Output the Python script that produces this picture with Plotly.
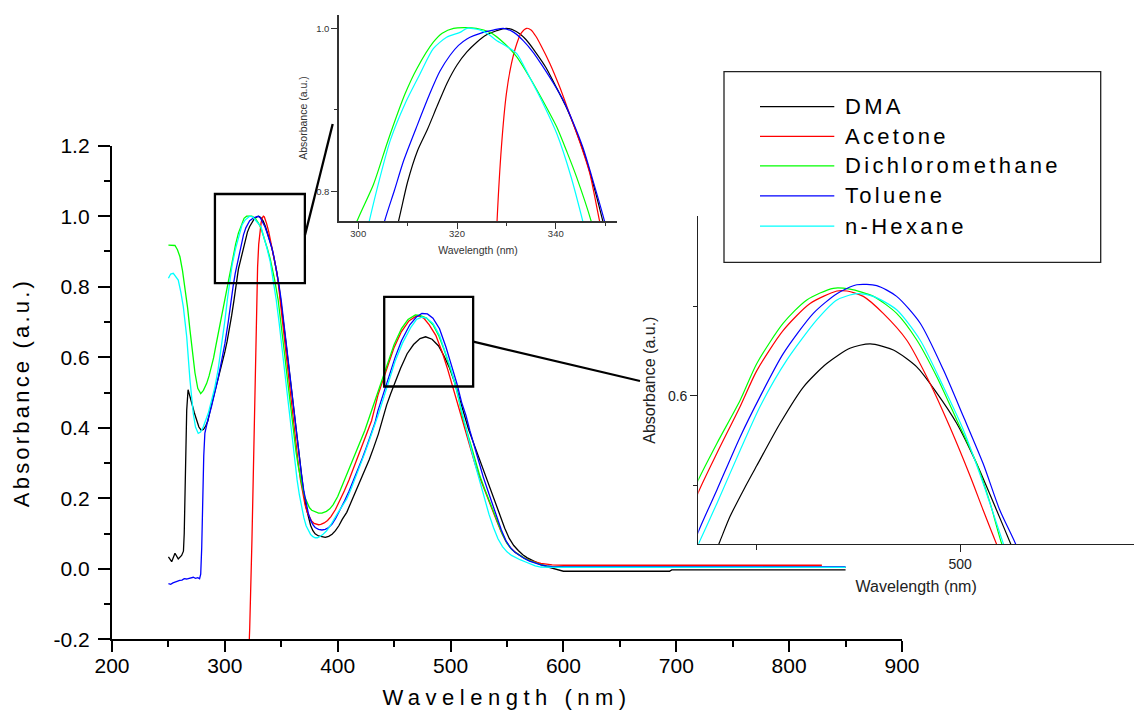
import plotly.graph_objects as go

# ---------------- data ----------------
names = ["DMA", "Acetone", "Dichloromethane", "Toluene", "n-Hexane"]
colors = ["#000000", "#FF0000", "#00FF00", "#0000FF", "#00FFFF"]

wl_dma = [250, 252.9, 255.8, 258.7, 261.7, 263.3, 264, 265, 266.2, 267.4, 269, 271, 273, 275, 277, 279,
          281, 283, 285, 287, 290, 293, 296, 298, 300, 302, 304, 306, 308, 310, 312, 314, 316, 318,
          320, 322, 324, 326, 328, 330, 332, 334, 336, 338, 340, 342, 344, 346, 348, 350, 352, 354,
          356, 358, 360, 362, 364, 366, 368, 370, 372, 374, 376, 378, 380, 383, 386, 389, 392, 395,
          398, 401, 404, 408, 412, 416, 420, 424, 428, 432, 436, 440.8, 443.4, 447, 450, 455.7, 461.5,
          467.2, 472.9, 477.9, 483.6, 489.4, 494.3, 499.2, 504.1, 509, 512.5, 516, 520, 524, 528, 532,
          536, 540, 544, 548, 552, 556, 560, 564, 568, 572, 576, 580, 585, 590, 595, 600, 694, 696, 850]
ab_dma = [0.034, 0.020, 0.044, 0.028, 0.038, 0.050, 0.10, 0.28, 0.45, 0.508, 0.492, 0.466, 0.442, 0.420,
          0.402, 0.393, 0.395, 0.405, 0.420, 0.450, 0.487, 0.527, 0.562, 0.588, 0.615, 0.645, 0.678,
          0.718, 0.760, 0.812, 0.850, 0.876, 0.905, 0.933, 0.955, 0.971, 0.983, 0.992, 0.997, 1.000,
          0.996, 0.986, 0.970, 0.952, 0.929, 0.905, 0.876, 0.842, 0.800, 0.752, 0.700, 0.645, 0.590,
          0.535, 0.478, 0.420, 0.365, 0.310, 0.258, 0.212, 0.174, 0.145, 0.123, 0.108, 0.099, 0.093,
          0.090, 0.089, 0.092, 0.098, 0.108, 0.122, 0.140, 0.160, 0.190, 0.220, 0.246, 0.276, 0.310,
          0.345, 0.382, 0.436, 0.465, 0.497, 0.522, 0.569, 0.610, 0.636, 0.653, 0.658, 0.651, 0.632,
          0.603, 0.569, 0.524, 0.472, 0.434, 0.395, 0.360, 0.325, 0.290, 0.258, 0.222, 0.185, 0.148,
          0.115, 0.086, 0.066, 0.052, 0.040, 0.031, 0.024, 0.018, 0.012, 0.006, 0.001, -0.003, -0.007,
          -0.007, -0.003, -0.003]

wl_ace = [320, 322, 324, 326, 327, 328, 329, 330, 331, 332.1, 333, 334.1, 335, 336, 337, 338.8, 340.8,
          342.8, 344.9, 346.9, 348.9, 351, 353, 355, 357, 359, 361, 363, 365, 367, 369, 371, 373, 375,
          377, 379, 381, 383, 385, 388, 391, 394, 398, 402, 406, 410, 414, 418, 422, 426, 430, 433,
          435.6, 440.2, 445.9, 450, 456.5, 463.1, 469.7, 472.2, 476.2, 481.1, 486.9, 492.6, 497.5,
          502.5, 505.7, 509, 513, 517, 521, 525, 529, 533, 537, 541, 545, 549, 553, 557, 561, 565,
          570, 575, 580, 585, 590, 600, 700, 829]
ab_ace = [-0.35, -0.17, 0.08, 0.40, 0.58, 0.75, 0.855, 0.92, 0.956, 0.981, 0.994, 1.000, 0.998, 0.990,
          0.979, 0.957, 0.928, 0.895, 0.860, 0.822, 0.763, 0.705, 0.650, 0.590, 0.530, 0.470, 0.410,
          0.355, 0.300, 0.252, 0.212, 0.182, 0.160, 0.145, 0.135, 0.129, 0.126, 0.125, 0.126, 0.130,
          0.137, 0.148, 0.168, 0.193, 0.222, 0.252, 0.285, 0.315, 0.348, 0.385, 0.420, 0.458, 0.492,
          0.536, 0.588, 0.628, 0.673, 0.703, 0.717, 0.717, 0.711, 0.692, 0.662, 0.614, 0.565, 0.510,
          0.472, 0.434, 0.390, 0.346, 0.305, 0.266, 0.232, 0.198, 0.168, 0.135, 0.104, 0.078, 0.060,
          0.048, 0.039, 0.031, 0.024, 0.019, 0.015, 0.013, 0.011, 0.010, 0.010, 0.010]

wl_dcm = [250, 252, 255.8, 258, 260.2, 262.5, 264.7, 267, 269.1, 271, 273.5, 276, 278.6, 281, 283.9, 286,
          288.3, 290, 292, 294.2, 297, 299.7, 303.1, 306, 309.5, 312, 315.2, 317, 319.3, 323.9, 326.7,
          329.5, 332.1, 334.7, 337.5, 340.2, 342.3, 344.2, 347.2, 349, 351, 353, 355, 357, 359, 361,
          363, 365, 367, 369, 371, 373, 375, 377, 380, 383, 386, 388, 390, 393, 396, 400, 404, 408,
          412, 416, 420, 424, 428, 432, 435.6, 440.2, 445.9, 450, 456.5, 462.3, 468.8, 472.9, 478.7,
          484.4, 489.4, 494.3, 499.2, 504.1, 507.4, 510.3, 514, 518, 522, 526, 530, 534, 538, 542, 546,
          550, 554, 558, 562, 566, 570, 575, 580, 585, 590, 600, 850]
ab_dcm = [0.918, 0.917, 0.917, 0.905, 0.885, 0.845, 0.800, 0.740, 0.677, 0.620, 0.556, 0.512, 0.497,
          0.506, 0.526, 0.547, 0.573, 0.598, 0.632, 0.668, 0.712, 0.763, 0.809, 0.862, 0.920, 0.952,
          0.983, 0.994, 1.000, 1.000, 0.995, 0.982, 0.965, 0.940, 0.910, 0.879, 0.848, 0.818, 0.763,
          0.718, 0.663, 0.607, 0.550, 0.492, 0.436, 0.382, 0.333, 0.292, 0.257, 0.227, 0.202, 0.185,
          0.173, 0.166, 0.161, 0.158, 0.158, 0.160, 0.163, 0.170, 0.182, 0.205, 0.236, 0.270, 0.300,
          0.330, 0.358, 0.392, 0.430, 0.467, 0.506, 0.547, 0.595, 0.636, 0.681, 0.707, 0.720, 0.719,
          0.711, 0.692, 0.662, 0.621, 0.573, 0.524, 0.480, 0.434, 0.395, 0.350, 0.305, 0.263, 0.228,
          0.195, 0.165, 0.132, 0.097, 0.072, 0.055, 0.045, 0.036, 0.029, 0.023, 0.017, 0.012, 0.008,
          0.006, 0.005, 0.004]

wl_tol = [250, 252, 254, 256, 258, 260, 262, 264, 266, 268, 270, 272, 274, 276, 277.6, 278.6, 279.5,
          280.4, 281.3, 282.3, 283.5, 285, 288, 291.2, 294, 297, 300.1, 303, 305.3, 307.3, 309.2, 312,
          314.5, 316.5, 318.6, 320.3, 322, 325.3, 327.5, 329.4, 331.5, 333.4, 335.5, 337.4, 339.5,
          341.5, 343.5, 345.5, 347.7, 349.9, 352, 354, 356, 358, 360, 362, 364, 366, 368, 370, 372,
          374, 376, 378, 380, 383, 386, 389, 392, 395, 398, 402, 406, 410, 414, 418, 422, 426, 430,
          433, 435.6, 440.2, 445.9, 450.8, 456.5, 463.9, 469.7, 474.6, 479.5, 484.4, 490.2, 495.9,
          500.8, 505.7, 509.8, 513.7, 517, 521, 525, 529, 533, 537, 541, 545, 549, 553, 557, 561, 565,
          570, 575, 580, 585, 590, 600, 850]
ab_tol = [-0.042, -0.044, -0.040, -0.037, -0.036, -0.033, -0.032, -0.028, -0.029, -0.027, -0.026,
          -0.024, -0.027, -0.025, -0.028, -0.015, 0.06, 0.20, 0.32, 0.385, 0.405, 0.423, 0.458, 0.498,
          0.540, 0.588, 0.640, 0.700, 0.763, 0.801, 0.838, 0.882, 0.920, 0.947, 0.967, 0.979, 0.987,
          0.995, 0.998, 1.000, 0.995, 0.985, 0.970, 0.953, 0.933, 0.912, 0.885, 0.854, 0.810, 0.763,
          0.705, 0.650, 0.595, 0.538, 0.480, 0.420, 0.365, 0.312, 0.264, 0.220, 0.185, 0.157, 0.138,
          0.125, 0.117, 0.112, 0.110, 0.112, 0.117, 0.127, 0.142, 0.165, 0.192, 0.220, 0.250, 0.283,
          0.315, 0.350, 0.385, 0.414, 0.448, 0.495, 0.554, 0.599, 0.647, 0.692, 0.714, 0.724, 0.723,
          0.711, 0.681, 0.629, 0.577, 0.524, 0.472, 0.434, 0.393, 0.348, 0.304, 0.260, 0.222, 0.185,
          0.148, 0.110, 0.080, 0.060, 0.047, 0.038, 0.030, 0.022, 0.016, 0.011, 0.008, 0.006, 0.005,
          0.005]

wl_hex = [250, 252, 254.3, 256.5, 258.7, 261, 263.2, 266.2, 269.1, 272, 274, 276.4, 278.5, 280.9, 285.3,
          288, 291.2, 294, 297.1, 300, 302.2, 304.3, 306.5, 309.5, 312.5, 315.2, 317.9, 320.6, 322,
          324.6, 326.5, 328, 330, 332.1, 334.7, 337.5, 340.2, 343, 345.5, 348, 350, 352, 354, 356, 358,
          360, 362, 364, 366, 368, 370, 372, 374, 376, 378, 380, 382, 384, 387, 390, 393, 396, 400,
          404, 408, 412, 416, 420, 424, 428, 432, 435.6, 440.2, 445.9, 450.8, 457.4, 464.8, 469.7,
          474.6, 478.7, 484.4, 490.2, 495.9, 500.8, 505.7, 510.7, 514, 518, 522, 526, 530, 534, 538,
          542, 546, 550, 554, 558, 562, 566, 570, 575, 580, 590, 850]
ab_hex = [0.824, 0.836, 0.838, 0.830, 0.819, 0.785, 0.743, 0.658, 0.535, 0.441, 0.402, 0.384, 0.388,
          0.403, 0.441, 0.475, 0.516, 0.565, 0.630, 0.703, 0.763, 0.815, 0.863, 0.908, 0.944, 0.975,
          0.989, 0.995, 1.000, 0.998, 0.992, 0.985, 0.978, 0.969, 0.940, 0.907, 0.871, 0.820, 0.763,
          0.700, 0.645, 0.590, 0.530, 0.470, 0.410, 0.355, 0.300, 0.252, 0.210, 0.175, 0.145, 0.122,
          0.107, 0.097, 0.091, 0.088, 0.088, 0.091, 0.098, 0.107, 0.120, 0.137, 0.158, 0.178, 0.198,
          0.228, 0.260, 0.293, 0.328, 0.364, 0.400, 0.434, 0.480, 0.539, 0.588, 0.640, 0.685, 0.707,
          0.714, 0.711, 0.696, 0.662, 0.610, 0.562, 0.502, 0.434, 0.390, 0.342, 0.293, 0.247, 0.200,
          0.155, 0.117, 0.085, 0.063, 0.048, 0.038, 0.031, 0.025, 0.020, 0.014, 0.008, 0.005, 0.004,
          0.004]

series_wl = [wl_dma, wl_ace, wl_dcm, wl_tol, wl_hex]
series_ab = [ab_dma, ab_ace, ab_dcm, ab_tol, ab_hex]

# tick values
main_xticks = [200, 300, 400, 500, 600, 700, 800, 900]
main_xminor = [250, 350, 450, 550, 650, 750, 850]
main_yticks = [-0.2, 0.0, 0.2, 0.4, 0.6, 0.8, 1.0, 1.2]
main_yminor = [-0.1, 0.1, 0.3, 0.5, 0.7, 0.9, 1.1]
in1_xticks, in1_xminor = [300, 320, 340], [310, 330, 350]
in1_yticks, in1_yminor = [0.8, 1.0], [0.9]
in2_xticks, in2_xminor = [500], [450]
in2_yticks, in2_yminor = [0.6], [0.5, 0.7]

# zoom windows marked on the main plot (data units)
zoom1 = dict(x0=291.2, x1=370.9, y0=0.81, y1=1.063)
zoom2 = dict(x0=441.2, x1=520.0, y0=0.517, y1=0.771)

# ---------------- layout helpers ----------------
W, H = 1134, 716
FONT = "Liberation Sans, Arial, sans-serif"


def fx(p):
    return p / W


def fy(p):
    return 1 - p / H


def spaced(t, s):
    return '<span style="letter-spacing:%spx">%s</span>' % (s, t)


fig = go.Figure()
for nm, col, wl, ab in zip(names, colors, series_wl, series_ab):
    fig.add_trace(go.Scatter(x=wl, y=ab, mode="lines", name=nm, showlegend=False,
                             line=dict(color=col, width=1.3), xaxis="x", yaxis="y"))
for nm, col, wl, ab in zip(names, colors, series_wl, series_ab):
    fig.add_trace(go.Scatter(x=wl, y=ab, mode="lines", name=nm, showlegend=False,
                             line=dict(color=col, width=1.2, shape="spline", smoothing=0.7),
                             xaxis="x2", yaxis="y2"))
for nm, col, wl, ab in zip(names, colors, series_wl, series_ab):
    fig.add_trace(go.Scatter(x=wl, y=ab, mode="lines", name=nm, showlegend=False,
                             line=dict(color=col, width=1.2, shape="spline", smoothing=0.7),
                             xaxis="x3", yaxis="y3"))


def axis(domain, rng, tv, tt, mv, lw, lc, tl, ml, tw, fs, fc, title, tfs, tsp, standoff, anchor, lso=0):
    return dict(domain=domain, range=rng, anchor=anchor, showline=True, linewidth=lw, linecolor=lc,
                mirror=False, showgrid=False, zeroline=False, ticks="outside", ticklen=tl,
                tickwidth=tw, tickcolor=lc, tickmode="array", tickvals=tv, ticktext=tt,
                ticklabelstandoff=lso,
                minor=dict(tickmode="array", tickvals=mv, ticks="outside", ticklen=ml,
                           tickwidth=tw, tickcolor=lc, showgrid=False),
                tickfont=dict(family=FONT, size=fs, color=fc), automargin=False,
                title=dict(text=spaced(title, tsp) if tsp else title,
                           font=dict(family=FONT, size=tfs, color=fc), standoff=standoff))


fig.update_layout(
    width=W, height=H, margin=dict(l=0, r=0, t=0, b=0),
    paper_bgcolor="white", plot_bgcolor="rgba(0,0,0,0)", showlegend=False,
    xaxis=axis([fx(112), fx(902)], [200, 900], main_xticks, [str(v) for v in main_xticks],
               main_xminor, 2.3, "black", 11, 6, 2, 21, "black", "Wavelength (nm)", 22, 5.5, 14, "y",
               lso=-5),
    yaxis=axis([fy(639.3), fy(145.7)], [-0.2, 1.2], main_yticks, ["%.1f" % v for v in main_yticks],
               main_yminor, 2.3, "black", 12, 6, 2, 21, "black", "Absorbance (a.u.)", 22, 3.2, 18, "x",
               lso=4),
    xaxis2=axis([fx(339), fx(617)], [296.1, 352.4], in1_xticks, [str(v) for v in in1_xticks],
                in1_xminor, 1.5, "#333333", 6, 3.5, 1.2, 9.5, "#333333", "Wavelength (nm)", 10.5, 0, 8, "y2",
                lso=-3),
    yaxis2=axis([fy(221), fy(15)], [0.7639, 1.0163], in1_yticks, ["%.1f" % v for v in in1_yticks],
                in1_yminor, 1.5, "#333333", 6, 3.5, 1.2, 9.5, "#333333", "Absorbance (a.u.)", 10.5, 0, 6, "x2"),
    xaxis3=axis([fx(698.3), 1.0], [435.6, 542.8], in2_xticks, [str(v) for v in in2_xticks],
                in2_xminor, 1.2, "#222222", 7, 5, 1.2, 14, "#222222", "Wavelength (nm)", 16, 0, 9, "y3"),
    yaxis3=axis([fy(544.3), fy(216)], [0.434, 0.8008], in2_yticks, ["%.1f" % v for v in in2_yticks],
                in2_yminor, 1.2, "#222222", 7, 4, 1.2, 14, "#222222", "Absorbance (a.u.)", 16, 0, 8, "x3"),
)

shapes = []
for z in (zoom1, zoom2):
    shapes.append(dict(type="rect", xref="x", yref="y", line=dict(color="black", width=2.3),
                       fillcolor="rgba(0,0,0,0)", **z))
# connector lines from zoom windows to insets
shapes.append(dict(type="line", xref="paper", yref="paper", x0=fx(305), y0=fy(235), x1=fx(332.7),
                   y1=fy(124), line=dict(color="black", width=2.3)))
shapes.append(dict(type="line", xref="paper", yref="paper", x0=fx(473.3), y0=fy(341.7), x1=fx(640),
                   y1=fy(381), line=dict(color="black", width=2.3)))
# legend frame and sample lines
shapes.append(dict(type="rect", xref="paper", yref="paper", x0=fx(724), x1=fx(1100.7), y0=fy(262.3),
                   y1=fy(71.7), line=dict(color="#222222", width=1.3), fillcolor="white"))
rows = [106.7, 136.3, 165.9, 195.8, 226.2]
annotations = []
for nm, col, r in zip(names, colors, rows):
    shapes.append(dict(type="line", xref="paper", yref="paper", x0=fx(760), x1=fx(834.3), y0=fy(r),
                       y1=fy(r), line=dict(color=col, width=1.3)))
    annotations.append(dict(xref="paper", yref="paper", x=fx(843), y=fy(r), xanchor="left",
                            yanchor="middle", showarrow=False, text=spaced(nm, 3.3),
                            font=dict(family=FONT, size=22, color="black")))
fig.update_layout(shapes=shapes, annotations=annotations)

fig.write_html("out.html", config={"displayModeBar": False},
               post_script="document.body.style.margin='0px';")
